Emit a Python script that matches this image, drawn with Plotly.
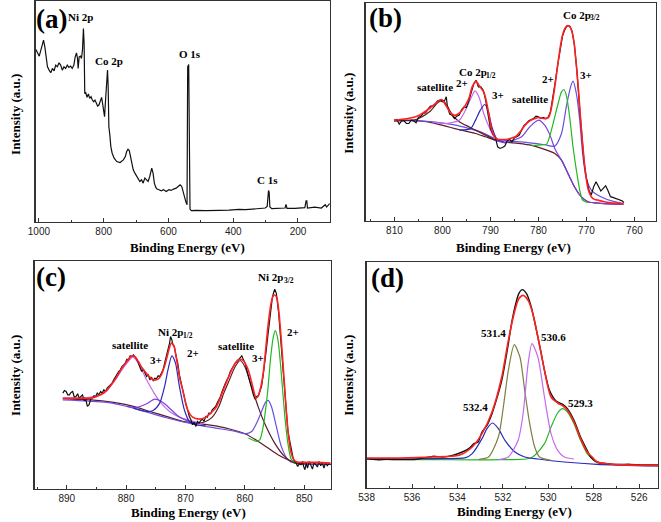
import plotly.graph_objects as go

# ---------------- (a) survey ----------------
a_energy = [1009.2, 1004.1, 999.0, 993.9, 989.8, 985.7, 981.7, 977.6, 973.5, 968.4, 963.3, 958.2, 953.1, 948.0, 943.0,
            937.9, 932.8, 927.7, 922.6, 917.5, 912.4, 907.3, 902.2, 897.1, 892.0, 887.9, 883.9, 880.8, 878.8, 875.7,
            871.6, 868.6, 865.5, 862.5, 860.4, 858.4, 855.3, 851.3, 847.2, 843.1, 839.0, 835.0, 830.9, 826.8, 822.7,
            818.7, 814.6, 810.5, 806.4, 803.4, 800.3, 797.3, 794.2, 791.2, 788.1, 786.1, 784.0, 781.0, 777.9, 773.8,
            767.7, 759.6, 749.4, 739.2, 733.1, 729.0, 724.9, 720.9, 716.8, 712.7, 708.7, 703.6, 698.5, 693.4, 688.3,
            683.2, 678.1, 673.0, 667.9, 662.8, 657.7, 654.7, 651.6, 647.5, 643.5, 639.4, 635.3, 629.2, 622.1, 614.9,
            606.8, 598.6, 591.5, 584.4, 576.2, 570.1, 564.0, 558.9, 554.8, 550.8, 546.7, 542.6, 540.6, 537.5, 535.5,
            533.4, 529.4, 515.1, 484.5, 454.0, 443.8, 413.2, 403.0, 382.7, 362.3, 331.7, 311.4, 301.2, 295.1, 293.0,
            291.0, 289.0, 286.9, 280.8, 250.2, 240.1, 237.0, 234.0, 209.5, 189.2, 178.9, 174.9, 172.8, 170.8, 148.4,
            128.0, 119.8, 115.8, 111.7, 107.6, 102.5]
a_intensity = [519, 507, 499, 517, 532, 547, 527, 492, 467, 457, 449, 462, 455, 472, 467,
               479, 472, 457, 467, 462, 472, 465, 469, 462, 472, 497, 509, 492, 462, 497,
               499, 492, 517, 582, 537, 387, 389, 375, 385, 372, 377, 367, 362, 367, 355,
               349, 352, 367, 375, 357, 327, 317, 367, 427, 457, 407, 287, 262, 227, 207,
               192, 182, 179, 187, 197, 212, 219, 215, 192, 172, 157, 147, 137, 129, 122,
               127, 117, 132, 127, 122, 137, 152, 162, 147, 117, 105, 99, 97, 94, 97,
               92, 97, 95, 99, 102, 107, 112, 107, 92, 72, 62, 52, 467, 474, 57,
               39, 34, 35, 34, 36, 35, 36, 37, 38, 37, 40, 41, 42, 47, 87,
               95, 89, 45, 40, 40, 42, 53, 41, 41, 42, 43, 64, 64, 42, 45,
               42, 47, 52, 45, 49, 55]

# ---------------- (b) Co 2p ----------------
b_energy = [810, 809.5, 809, 808.5, 808, 807.5, 807, 806.5, 806, 805.5, 805, 804.5, 804, 803.5, 803, 802.5, 802,
            801.5, 801, 800.5, 800, 799.5, 799.2, 799, 798.5, 798, 797.5, 797, 796.5, 796, 795.5, 795, 794.5, 794,
            793.5, 793, 792.5, 792, 791.5, 791, 790.5, 790, 789.5, 789, 788.5, 788, 787.5, 787, 786.5, 786, 785.5,
            785, 784.5, 784, 783.5, 783, 782.5, 782, 781.5, 781, 780.5, 780, 779.5, 779, 778.5, 778, 777.5, 777,
            776.5, 776, 775.5, 775, 774.5, 774, 773.5, 773, 772.5, 772, 771.5, 771, 770.5, 770, 769.5, 769, 768.5,
            768, 767.5, 767, 766.5, 766, 765.5, 765, 764.5, 764, 763.5, 763, 762.5, 762.2]
b_intensity = [303, 305, 291, 301, 301, 293, 293, 303, 301, 295, 311, 315, 323, 325, 336, 345, 345,
               351, 361, 363, 358, 363, 373, 348, 321, 318, 308, 315, 318, 335, 343, 341, 361, 383,
               411, 423, 403, 403, 393, 363, 318, 278, 261, 253, 223, 218, 221, 225, 241, 245, 238,
               250, 253, 258, 273, 287, 293, 301, 305, 308, 315, 313, 308, 311, 308, 311, 328, 370,
               418, 468, 518, 555, 575, 587, 586, 571, 528, 453, 353, 268, 178, 128, 93, 78, 103,
               118, 103, 90, 98, 106, 91, 73, 71, 68, 66, 61, 60, 55]
b_fit_energy = [810.07, 807.5, 804.8, 802.7, 801.0, 800.2, 799.3, 798.2, 797.2, 796.2, 795.2, 794.5, 793.8, 793.2,
                793.0, 792.4, 791.9, 791.4, 790.9, 790.3, 789.8, 789.3, 788.6, 787.9, 786.9, 785.9, 784.8, 783.8,
                782.8, 781.8, 780.7, 780.0, 779.0, 778.3, 777.8, 777.4, 776.9, 776.4, 775.9, 775.4, 774.9, 774.4,
                773.85, 773.4, 773.0, 772.6, 772.1, 771.6, 771.1, 770.55, 770.1, 769.6, 769.0, 768.35, 767.7, 766.3,
                764.9, 763.5, 762.3]
b_fit = [303, 307, 318, 338, 358, 365, 348, 323, 318, 328, 348, 368, 403, 418,
         420, 408, 398, 388, 363, 318, 278, 258, 246, 245, 245, 248, 253, 268,
         288, 301, 308, 311, 308, 308, 313, 333, 373, 423, 478, 528, 563, 581,
         587, 583, 568, 538, 468, 383, 283, 193, 133, 93, 73, 65, 63, 58,
         55, 53, 51]
b_base_energy = [810.07, 807.5, 804.8, 802.0, 799.3, 797.2, 795.2, 793.1, 791.0, 789.0, 786.9, 784.2, 781.4, 779.3,
                 776.6, 775.2, 773.85, 772.5, 771.1, 769.7, 767.0, 762.3]
b_base = [301, 303, 301, 295, 285, 277, 270, 263, 253, 243, 237, 233, 227, 218,
          203, 183, 143, 103, 73, 58, 53, 50]
b_sat12_energy = [810.07, 805.5, 802.7, 801.0, 800.0, 798.9, 797.9, 796.5, 795.2, 793.1, 791.0, 789.0]
b_sat12 = [301, 305, 328, 355, 363, 343, 318, 298, 288, 273, 258, 243]
b_co2_12_energy = [802.0, 799.3, 796.5, 795.2, 794.1, 793.2, 792.4, 791.4, 790.3, 789.0, 786.9]
b_co2_12 = [297, 293, 303, 333, 368, 391, 373, 323, 283, 248, 238]
b_co3_12_energy = [796.5, 794.1, 793.1, 792.1, 791.2, 790.5, 789.7, 788.6, 787.25]
b_co3_12 = [273, 278, 303, 333, 350, 333, 283, 245, 238]
b_co3_32_energy = [810.07, 805.5, 802.0, 797.2, 794.5, 791.7, 789.0, 786.2, 783.5, 780.7, 778.7, 776.6, 775.2,
                   774.2, 773.3, 772.8, 772.1, 771.4, 770.8, 770.1, 769.0, 767.0, 764.2, 762.3]
b_co3_32 = [303, 301, 298, 288, 278, 266, 248, 240, 238, 233, 229, 225, 263,
            343, 403, 420, 383, 303, 203, 133, 93, 73, 58, 53]
b_co2_32_energy = [781.4, 779.3, 778.3, 777.3, 776.6, 775.9, 775.2, 774.7, 774.2, 773.5, 772.8, 772.1, 771.4,
                   770.8, 769.7]
b_co2_32 = [227, 229, 231, 273, 313, 353, 388, 395, 378, 313, 223, 153, 93, 63, 55]
b_sat32_energy = [789.0, 786.9, 785.2, 783.5, 781.8, 780.0, 778.7, 777.6, 776.6, 775.6, 775.2, 773.85, 772.5,
                  771.1, 769.7, 762.3]
b_sat32 = [243, 235, 243, 253, 283, 303, 288, 258, 218, 192, 183, 143, 103, 73, 58, 50]

# ---------------- (c) Ni 2p ----------------
c_energy = [890.66, 890.39, 890.11, 889.83, 889.56, 889.28, 889.00, 888.73, 888.45, 888.17, 887.90, 887.62, 887.35,
            887.07, 886.79, 886.52, 886.24, 885.96, 885.69, 885.41, 885.13, 884.86, 884.58, 884.30, 884.03, 883.75,
            883.47, 883.20, 882.92, 882.64, 882.37, 882.09, 881.81, 881.54, 881.26, 880.98, 880.71, 880.43, 880.15,
            879.88, 879.60, 879.32, 879.05, 878.77, 878.50, 878.22, 877.94, 877.67, 877.39, 877.11, 876.84, 876.56,
            876.28, 876.01, 875.73, 875.45, 875.18, 874.90, 874.62, 874.35, 874.07, 873.79, 873.52, 873.24, 872.96,
            872.69, 872.52, 872.30, 872.13, 871.86, 871.58, 871.31, 871.03, 870.75, 870.48, 870.20, 869.92, 869.65,
            869.37, 869.09, 868.82, 868.54, 868.26, 867.99, 867.71, 867.43, 867.16, 866.88, 866.60, 866.33, 866.05,
            865.77, 865.50, 865.22, 864.94, 864.67, 864.39, 864.12, 863.84, 863.56, 863.29, 863.01, 862.73, 862.46,
            862.18, 861.90, 861.63, 861.35, 861.07, 860.80, 860.52, 860.24, 859.97, 859.69, 859.41, 859.14, 858.86,
            858.58, 858.31, 858.03, 857.75, 857.48, 857.20, 856.92, 856.65, 856.37, 856.09, 855.82, 855.65, 855.43,
            855.27, 854.99, 854.71, 854.55, 854.32, 854.10, 853.88, 853.66, 853.44, 853.22, 853.05, 852.78, 852.50,
            852.22, 851.94, 851.67, 851.39, 851.12, 850.84, 850.56, 850.29, 850.12, 849.90, 849.68, 849.46, 849.18,
            848.91, 848.63, 848.35, 848.08, 847.80, 847.52, 847.24, 846.97, 846.69, 846.41, 846.13, 845.86, 845.59]
c_intensity = [288, 296, 293, 283, 283, 290, 293, 276, 278, 286, 273, 280, 283,
               266, 268, 248, 253, 270, 273, 280, 278, 288, 283, 293, 288, 298,
               293, 303, 308, 310, 318, 328, 338, 343, 353, 358, 368, 373, 378,
               390, 388, 400, 398, 403, 396, 390, 378, 366, 353, 360, 348, 338,
               343, 328, 336, 326, 333, 331, 340, 338, 348, 358, 378, 398, 413,
               438, 458, 448, 433, 426, 398, 378, 343, 318, 293, 273, 253, 238,
               218, 208, 193, 200, 188, 203, 198, 206, 210, 203, 218, 216, 228,
               226, 238, 243, 248, 258, 268, 278, 293, 308, 318, 328, 338, 353,
               363, 368, 378, 383, 390, 393, 400, 388, 378, 358, 338, 318, 298,
               283, 270, 278, 280, 293, 308, 343, 378, 423, 468, 513, 538, 568,
               583, 600, 588, 568, 528, 478, 428, 378, 328, 278, 228, 178, 148,
               118, 98, 83, 78, 68, 76, 73, 83, 68, 58, 78, 63, 83,
               73, 60, 80, 73, 66, 83, 70, 78, 63, 80, 70, 76, 73]
c_fit_energy = [890.66, 888.73, 885.96, 884.30, 883.20, 882.37, 881.54, 880.71, 879.88, 879.32, 878.88, 878.44,
                877.94, 877.39, 876.84, 876.12, 875.45, 874.62, 874.07, 873.52, 872.96, 872.69, 872.41, 872.02,
                871.69, 871.31, 870.92, 870.48, 870.03, 869.65, 868.82, 867.71, 866.60, 865.77, 864.94, 864.39,
                863.84, 863.29, 862.73, 862.18, 861.63, 861.18, 860.80, 860.41, 859.97, 859.41, 858.86, 858.42,
                858.14, 857.75, 857.31, 856.92, 856.54, 856.09, 855.65, 855.31, 854.99, 854.65, 854.32, 853.88,
                853.44, 853.05, 852.65, 852.21, 851.77, 851.22, 850.00, 847.80, 845.59]
c_fit = [273, 273, 273, 283, 298, 316, 338, 363, 383, 396, 400, 396,
         383, 366, 353, 338, 328, 330, 343, 370, 408, 426, 438, 433,
         408, 368, 328, 298, 263, 238, 216, 210, 216, 228, 243, 263,
         288, 313, 338, 360, 378, 388, 390, 388, 378, 356, 320, 288,
         273, 280, 308, 348, 413, 493, 553, 578, 583, 576, 538, 448,
         338, 238, 158, 108, 88, 81, 80, 80, 78]
c_base_energy = [890.66, 885.96, 882.09, 878.77, 876.01, 873.24, 870.48, 868.26, 865.50, 862.73, 859.97, 857.75,
                 856.09, 854.44, 852.77, 851.12, 848.35, 845.59]
c_base = [270, 268, 260, 248, 233, 218, 203, 198, 191, 181, 166, 143, 123, 103, 88, 78, 75, 75]
c_ni3_32_energy = [890.66, 883.20, 878.77, 873.24, 868.26, 864.94, 861.63, 859.97, 858.86, 858.03, 857.20, 856.54,
                   856.09, 855.54, 854.71, 853.88, 852.77, 851.67, 850.00, 845.59]
c_ni3_32 = [268, 260, 243, 214, 193, 183, 173, 166, 173, 198, 233, 260, 266, 248, 188, 128, 88, 78, 75, 74]
c_sat32_energy = [868.26, 866.60, 865.50, 864.39, 863.56, 862.73, 861.63, 860.80, 859.97, 858.86, 857.75, 856.65,
                  854.99, 853.33, 851.67, 850.00]
c_sat32 = [196, 203, 216, 248, 288, 323, 368, 386, 366, 306, 246, 196, 138, 98, 78, 75]
c_ni2_32_energy = [859.41, 858.03, 857.48, 856.92, 856.20, 855.65, 855.21, 854.88, 854.44, 853.88, 853.33, 852.77,
                   852.22, 851.39]
c_ni2_32 = [153, 143, 148, 188, 288, 398, 458, 476, 448, 348, 228, 138, 90, 76]
c_sat12_energy = [890.66, 885.96, 884.30, 883.20, 881.54, 879.88, 878.88, 877.94, 876.56, 875.45, 874.35, 872.69,
                  871.03, 869.37, 867.16]
c_sat12 = [270, 276, 283, 296, 336, 378, 396, 378, 328, 293, 263, 233, 216, 206, 196]
c_ni3_12_energy = [879.88, 878.22, 876.56, 875.18, 873.79, 872.41, 871.03, 869.37, 867.71]
c_ni3_12 = [248, 245, 256, 270, 260, 238, 216, 203, 196]
c_ni2_12_energy = [878.77, 876.56, 875.45, 874.35, 873.52, 872.96, 872.30, 871.69, 871.03, 870.20, 869.37, 868.26,
                   866.60]
c_ni2_12 = [243, 233, 236, 258, 308, 358, 400, 378, 308, 238, 203, 193, 190]

# ---------------- (d) O 1s ----------------
d_energy = [538.00, 537.55, 537.12, 536.54, 535.81, 535.09, 534.66, 534.22, 533.79, 533.50, 533.28, 533.09, 532.92,
            532.70, 532.48, 532.27, 532.05, 531.91, 531.76, 531.62, 531.47, 531.30, 531.15, 530.96, 530.75, 530.60,
            530.46, 530.31, 530.17, 529.95, 529.66, 529.37, 529.16, 528.87, 528.58, 528.29, 528.14, 527.85, 527.13,
            526.40, 525.68, 525.17]
d_intensity = [88, 85, 86, 85, 86, 95, 93, 98, 108, 118, 133, 138, 168,
               188, 223, 268, 323, 373, 433, 493, 543, 583, 595, 583, 543, 498,
               453, 403, 353, 293, 261, 251, 238, 203, 153, 113, 93, 78, 71,
               71, 69, 69]
d_fit_energy = [538.00, 536.54, 535.09, 533.93, 533.35, 532.92, 532.48, 532.05, 531.76, 531.47, 531.30, 531.11,
                530.89, 530.68, 530.46, 530.17, 529.88, 529.59, 529.33, 529.16, 528.87, 528.58, 528.29, 528.07,
                527.85, 527.13, 525.17]
d_fit = [90, 90, 93, 98, 123, 163, 228, 333, 443, 533, 568, 578,
         563, 523, 453, 353, 273, 255, 245, 233, 198, 148, 108, 93,
         78, 71, 68]
d_p5324_energy = [538.00, 535.09, 533.64, 533.35, 532.92, 532.70, 532.46, 532.20, 531.91, 531.47, 531.04, 530.46,
                  529.30, 527.85, 525.17]
d_p5324 = [88, 88, 91, 103, 148, 178, 195, 178, 143, 108, 93, 87, 78, 71, 66]
d_p5314_energy = [533.06, 532.63, 532.20, 531.98, 531.76, 531.50, 531.25, 531.04, 530.82, 530.60, 530.39, 529.88]
d_p5314 = [86, 93, 153, 243, 353, 430, 393, 293, 193, 123, 93, 83]
d_p5306_energy = [532.20, 531.76, 531.33, 531.11, 530.89, 530.72, 530.46, 530.17, 529.88, 529.59, 529.30, 528.87]
d_p5306 = [85, 93, 143, 223, 373, 433, 393, 273, 163, 113, 93, 87]
d_p5293_energy = [538.00, 535.09, 532.20, 530.75, 530.17, 529.88, 529.59, 529.37, 529.16, 528.87, 528.58, 528.29,
                  528.07, 527.85, 525.17]
d_p5293 = [86, 85, 85, 91, 133, 183, 225, 238, 228, 193, 143, 103, 88, 76, 67]

pairs = [(a_energy, a_intensity), (b_energy, b_intensity), (b_fit_energy, b_fit), (b_base_energy, b_base),
         (b_sat12_energy, b_sat12), (b_co2_12_energy, b_co2_12), (b_co3_12_energy, b_co3_12),
         (b_co3_32_energy, b_co3_32), (b_co2_32_energy, b_co2_32), (b_sat32_energy, b_sat32),
         (c_energy, c_intensity), (c_fit_energy, c_fit), (c_base_energy, c_base), (c_ni3_32_energy, c_ni3_32),
         (c_sat32_energy, c_sat32), (c_ni2_32_energy, c_ni2_32), (c_sat12_energy, c_sat12),
         (c_ni3_12_energy, c_ni3_12), (c_ni2_12_energy, c_ni2_12), (d_energy, d_intensity), (d_fit_energy, d_fit),
         (d_p5324_energy, d_p5324), (d_p5314_energy, d_p5314), (d_p5306_energy, d_p5306),
         (d_p5293_energy, d_p5293)]
for i, (xx, yy) in enumerate(pairs):
    assert len(xx) == len(yy), (i, len(xx), len(yy))

# ---------------- styling ----------------
W, H = 661, 522
BLACK = "#111111"
RED = "#ff2020"
MAROON = "#5e1a2a"
VIOLET = "#6650e0"
PURPLE = "#7a40e0"
ORCHID = "#c46af0"
BLUE = "#2a2ab8"
GREEN = "#22b822"
OLIVE = "#7f7f3f"
SERIF = "Liberation Serif, Times New Roman, serif"
SANS = "Liberation Sans, Arial, sans-serif"

fig = go.Figure()


def add(x, y, color, width, ax, shape="spline"):
    fig.add_trace(go.Scatter(
        x=x, y=y, mode="lines",
        line=dict(color=color, width=width, shape=shape, smoothing=0.7),
        xaxis="x" + ax, yaxis="y" + ax, showlegend=False, hoverinfo="skip"))


# (a)
add(a_energy, a_intensity, BLACK, 1.2, "", "linear")
# (b)
add(b_base_energy, b_base, MAROON, 1.2, "2")
add(b_co3_32_energy, b_co3_32, VIOLET, 1.2, "2")
add(b_sat12_energy, b_sat12, MAROON, 1.2, "2")
add(b_co2_12_energy, b_co2_12, ORCHID, 1.2, "2")
add(b_co3_12_energy, b_co3_12, BLUE, 1.2, "2")
add(b_sat32_energy, b_sat32, PURPLE, 1.2, "2")
add(b_co2_32_energy, b_co2_32, GREEN, 1.2, "2")
add(b_energy, b_intensity, BLACK, 1.2, "2", "linear")
add(b_fit_energy, b_fit, RED, 1.6, "2")
# (c)
add(c_base_energy, c_base, MAROON, 1.2, "3")
add(c_ni3_32_energy, c_ni3_32, VIOLET, 1.2, "3")
add(c_sat32_energy, c_sat32, MAROON, 1.2, "3")
add(c_ni2_32_energy, c_ni2_32, GREEN, 1.2, "3")
add(c_sat12_energy, c_sat12, ORCHID, 1.2, "3")
add(c_ni3_12_energy, c_ni3_12, PURPLE, 1.2, "3")
add(c_ni2_12_energy, c_ni2_12, BLUE, 1.2, "3")
add(c_energy, c_intensity, BLACK, 1.2, "3", "linear")
add(c_fit_energy, c_fit, RED, 1.6, "3")
# (d)
add(d_p5293_energy, d_p5293, GREEN, 1.2, "4")
add(d_p5324_energy, d_p5324, BLUE, 1.2, "4")
add(d_p5314_energy, d_p5314, OLIVE, 1.2, "4")
add(d_p5306_energy, d_p5306, ORCHID, 1.2, "4")
add(d_energy, d_intensity, BLACK, 1.4, "4")
add(d_fit_energy, d_fit, RED, 1.6, "4")


def xaxis(left, right, rng, dtick, mdtick, anchor):
    return dict(domain=[left / W, right / W], range=rng, anchor=anchor,
                showline=True, linecolor="#333", linewidth=1.3, mirror=True,
                ticks="inside", ticklen=4, tickwidth=1, tickcolor="#333",
                tick0=0, dtick=dtick,
                minor=dict(ticks="inside", ticklen=2.5, tickwidth=1, tickcolor="#333", dtick=mdtick, tick0=0),
                showgrid=False, zeroline=False, ticklabelstandoff=0,
                tickfont=dict(family=SANS, size=10, color="#222"))


def yaxis(top, bottom, rng, anchor):
    return dict(domain=[1 - bottom / H, 1 - top / H], range=rng, anchor=anchor,
                showline=True, linecolor="#333", linewidth=1.3, mirror=True,
                ticks="", showticklabels=False, showgrid=False, zeroline=False)


layout = dict(
    width=W, height=H, margin=dict(l=0, r=0, t=0, b=0, pad=0), autosize=False,
    paper_bgcolor="white", plot_bgcolor="white", showlegend=False,
    xaxis=xaxis(28, 326, [1010, 101], 200, 100, "y"),
    yaxis=yaxis(1, 222, [0, 665], "x"),
    xaxis2=xaxis(362, 656, [816, 755.5], 10, 5, "y2"),
    yaxis2=yaxis(3, 221, [0, 655], "x2"),
    xaxis3=xaxis(27, 327, [895.4, 845.5], 10, 5, "y3"),
    yaxis3=yaxis(261, 489, [0, 685], "x3"),
    xaxis4=xaxis(363, 658, [538, 525.17], 2, 1, "y4"),
    yaxis4=yaxis(262, 488, [0, 678], "x4"),
)
fig.update_layout(**layout)

annots = []


def text(x, y, s, size=11, angle=0, anchor="center"):
    annots.append(dict(x=x / W, y=1 - y / H, xref="paper", yref="paper", text="<b>" + s + "</b>",
                       showarrow=False, xanchor=anchor, yanchor="middle", textangle=angle,
                       font=dict(family=SERIF, size=size, color="black")))


def orbital(x, y, main, sub, main_w):
    # main label followed by a smaller, lowered subscript; (x, y) is the centre of the whole label
    sub_w = 9.6
    total = main_w + sub_w
    left = x - total / 2
    text(left, y, main, 11, 0, "left")
    text(left + main_w, y + 3, sub, 7.5, 0, "left")


# panel letters
text(44, 19, "(a)", 27)
text(382, 18, "(b)", 27)
text(44, 277, "(c)", 27)
text(384, 278, "(d)", 27)
# axis titles
for cx, cy in [(182, 247), (512, 247), (183, 512), (513, 511)]:
    text(cx, cy, "Binding Energy (eV)", 13)
for cx, cy in [(7, 114), (344, 113), (7, 375), (344, 375)]:
    text(cx, cy, "Intensity (a.u.)", 13, -90)
# (a)
text(73, 17, "Ni 2p")
text(102, 61, "Co 2p")
text(184, 54, "O 1s")
text(263, 180, "C 1s")
# (b)
orbital(578, 15, "Co 2p", "3/2", 27.8)
orbital(473, 72, "Co 2p", "1/2", 27.8)
text(432, 87, "satellite")
text(460, 83, "2+")
text(496, 95, "3+")
text(528, 99, "satellite")
text(547, 79, "2+")
text(585, 75, "3+")
# (c)
orbital(269, 277, "Ni 2p", "3/2", 25.4)
orbital(167, 332, "Ni 2p", "1/2", 25.4)
text(288, 332, "2+")
text(124, 345, "satellite")
text(150, 360, "3+")
text(187, 353, "2+")
text(231, 346, "satellite")
text(253, 358, "3+")
# (d)
text(491, 333, "531.4")
text(552, 337, "530.6")
text(473, 407, "532.4")
text(580, 403, "529.3")

fig.update_layout(annotations=annots)
fig.write_html("out.html", config={"displayModeBar": False, "staticPlot": True},
               post_script="document.body.style.margin='0';document.body.style.overflow='hidden';")
